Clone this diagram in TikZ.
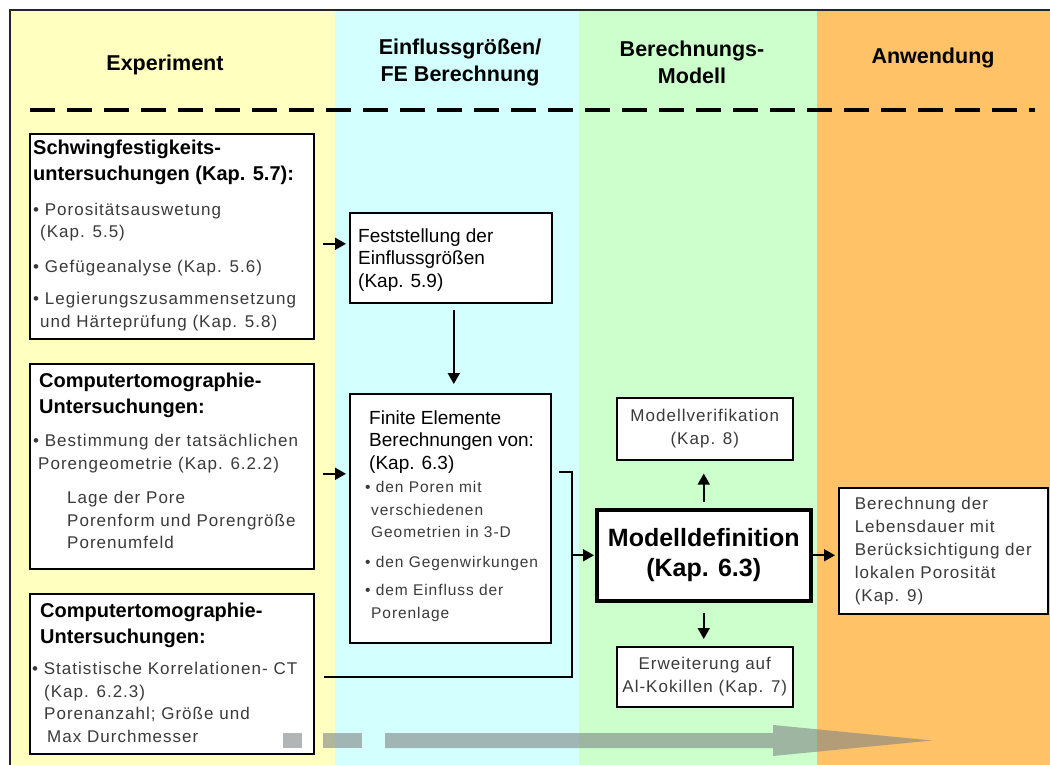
\documentclass[tikz,border=0pt]{standalone}
\usepackage{fontspec}
\setmainfont{Liberation Sans}
\newfontfamily\spacedfont[LetterSpace=6]{Liberation Sans}
\usetikzlibrary{arrows.meta,positioning}

\definecolor{colyellow}{HTML}{FFFFC0}
\definecolor{colcyan}{HTML}{D4FFFF}
\definecolor{colgreen}{HTML}{CCFFCC}
\definecolor{colorange}{HTML}{FFC266}
\definecolor{textgray}{HTML}{3A3A3A}
\definecolor{arrowgray}{HTML}{7F8585}

\newcommand\hdfont{\fontsize{20}{26}\selectfont\bfseries}
\newcommand\bdfont{\spacedfont\fontsize{17}{22.5}\selectfont}
\newcommand\smfont{\spacedfont\fontsize{15.5}{22.5}\selectfont}
\newcommand\fefont{\fontsize{19}{22.5}\selectfont}
\newcommand\colfont{\fontsize{21.5}{27}\selectfont\bfseries}

\begin{document}
\begin{tikzpicture}[x=1pt,y=-1pt]
\tikzstyle{every node}+=[inner sep=0pt]
\tikzstyle{box}=[draw=black, line width=1.6pt, fill=white, rectangle, anchor=north west]
\tikzstyle{txt}=[anchor=base west, text width=285pt, align=flush left]
\tikzstyle{arr}=[line width=1.8pt, -{Triangle[length=11pt,width=12pt]}]
\tikzstyle{line}=[line width=1.8pt]
\tikzstyle{flow}=[fill=arrowgray, opacity=0.6]

\useasboundingbox (0,0) rectangle (1050,765);
\clip (0,0) rectangle (1050,765);
\fill[white] (0,0) rectangle (1050,765);

% columns and frame
\fill[colyellow] (10,10) rectangle (335,765);
\fill[colcyan] (335,10) rectangle (579,765);
\fill[colgreen] (579,10) rectangle (817,765);
\fill[colorange] (817,10) rectangle (1050,765);
\draw[line width=1.8pt, black!85] (10,770) -- (10,10) -- (1055,10);

% column headers
\node[font=\colfont] (hexp) at (165,65) {Experiment};
\node[font=\colfont, align=center] (hfe) at (460,62) {Einflussgrößen/\\FE Berechnung};
\node[font=\colfont, align=center] (hmod) at (692,62) {Berechnungs-\\Modell};
\node[font=\colfont] (hanw) at (933,58) {Anwendung};
\draw[line width=4pt, dash pattern=on 25pt off 12pt] (30,110) -- (1035,110);

% boxes
\node[box, minimum width=284pt, minimum height=205pt] (schwing) at (29,133) {};
\node[box, minimum width=202pt, minimum height=90pt] (fest) at (349,212) {};
\node[box, minimum width=284pt, minimum height=205pt] (ct1) at (29,363) {};
\node[box, minimum width=201pt, minimum height=249pt] (finite) at (349,393) {};
\node[box, minimum width=284pt, minimum height=160pt] (ct2) at (29,593) {};
\node[box, minimum width=176pt, minimum height=62pt, align=center, font=\bdfont, text=textgray] (verif) at (616,397) {Modellverifikation\\(Kap. 8)};
\node[box, line width=3.5pt, minimum width=214pt, minimum height=91pt, align=center, font=\fontsize{25}{30}\selectfont\bfseries] (modell) at (595,508) {Modelldefinition\\(Kap. 6.3)};
\node[box, minimum width=176pt, minimum height=60pt, align=center, font=\bdfont, text=textgray] (erw) at (616,646) {Erweiterung auf\\Al-Kokillen (Kap. 7)};
\node[box, minimum width=209pt, minimum height=126pt, align=left, font=\fontsize{17}{23}\spacedfont\selectfont, text=textgray] (leben) at (838,487) {Berechnung der\\Lebensdauer mit\\Berücksichtigung der\\lokalen Porosität\\(Kap. 9)};

% box texts
\node[txt] (schwingtxt) at ([xshift=4pt,yshift=-22pt]schwing.north west) {%
{\hdfont Schwingfestigkeits-\\untersuchungen (Kap. 5.7):\par}
\vspace{12pt}
{\bdfont\color{textgray} • Porositätsauswetung\\\hspace*{7pt}(Kap. 5.5)\\[12pt]
• Gefügeanalyse (Kap. 5.6)\\[10pt]
• Legierungszusammensetzung\\\hspace*{7pt}und Härteprüfung (Kap. 5.8)\par}};
\node[txt] (festtxt) at ([xshift=9pt,yshift=-30pt]fest.north west) {%
{\fefont Feststellung der\\Einflussgrößen\\(Kap. 5.9)\par}};
\node[txt] (ct1txt) at ([xshift=4pt,yshift=-24pt]ct1.north west) {%
{\hdfont\leftskip=6pt Computertomographie-\\Untersuchungen:\par}
\vspace{11pt}
{\bdfont\color{textgray} • Bestimmung der tatsächlichen\\\hspace*{5pt}Porengeometrie (Kap. 6.2.2)\\[12pt]
\hspace*{34pt}Lage der Pore\\\hspace*{34pt}Porenform und Porengröße\\\hspace*{34pt}Porenumfeld\par}};
\node[txt] (finitetxt) at ([xshift=16pt,yshift=-31pt]finite.north west) {%
{\fefont\leftskip=4pt Finite Elemente\\Berechnungen von:\\(Kap. 6.3)\par}
\vspace{1pt}
{\smfont\color{textgray} • den Poren mit\\\hspace*{6pt}verschiedenen\\\hspace*{6pt}Geometrien in 3-D\\[7pt]
• den Gegenwirkungen\\[6pt]
• dem Einfluss der\\\hspace*{6pt}Porenlage\par}};
\node[txt] (ct2txt) at ([xshift=3pt,yshift=-24pt]ct2.north west) {%
{\hdfont\leftskip=8pt Computertomographie-\\Untersuchungen:\par}
\vspace{9pt}
{\bdfont\color{textgray} • Statistische Korrelationen- CT\\\hspace*{12pt}(Kap. 6.2.3)\\\hspace*{12pt}Porenanzahl; Größe und\\\hspace*{15pt}Max Durchmesser\par}};

% connectors
\draw[arr, shorten <=8pt, shorten >=3pt] ([yshift=-7.5pt]schwing.east) -- ([yshift=-7.5pt]schwing.east -| fest.west);
\draw[arr, shorten <=8pt, shorten >=3pt] ([yshift=-7.5pt]ct1.east) -- ([yshift=-7.5pt]ct1.east -| finite.west);
\draw[arr, shorten <=6pt, shorten >=9pt] ([xshift=3pt]fest.south) -- ([xshift=3pt]fest.south |- finite.north);
\coordinate (bustop) at (572,472);
\coordinate (busbot) at (572,677);
\draw[line, shorten <=7pt, shorten >=9pt] (bustop -| finite.east) -- (bustop) -- (busbot) -- (busbot -| ct2.east);
\draw[arr, shorten >=1pt] (bustop |- modell.west) -- (modell.west);
\draw[arr, shorten <=6pt, shorten >=13pt] (modell.north) -- (modell.north |- verif.south);
\draw[arr, shorten <=10pt, shorten >=7pt] (modell.south) -- (modell.south |- erw.north);
\draw[arr, shorten >=3pt] (modell.east) -- (modell.east -| leben.west);

% progress arrow
\fill[flow] (283,733) rectangle (302,748);
\fill[flow] (323,733) rectangle (362,748);
\fill[flow] (385,733) -- (773,733) -- (773,725) -- (932,740.5) -- (773,756) -- (773,748) -- (385,748) -- cycle;
\end{tikzpicture}
\end{document}
